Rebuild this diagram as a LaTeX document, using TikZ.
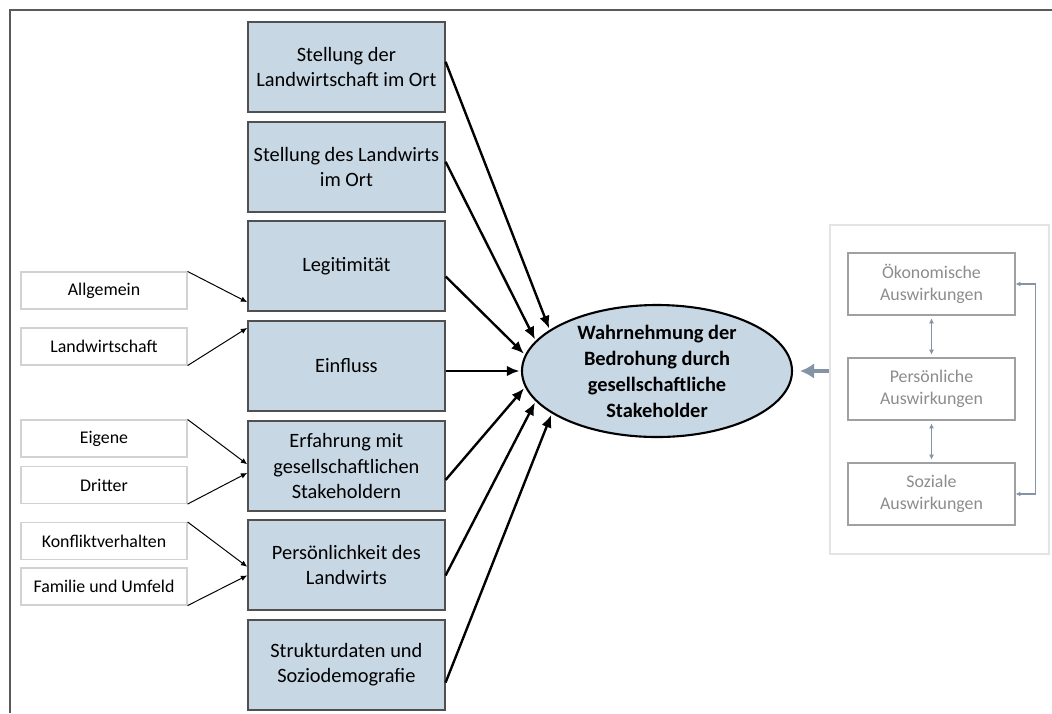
\documentclass[tikz,border=0pt]{standalone}
\usepackage{fontspec}
\setmainfont{Carlito}
\usetikzlibrary{arrows.meta,shapes.geometric}

\definecolor{boxblue}{RGB}{200,215,228}
\definecolor{boxline}{RGB}{80,80,80}
\definecolor{frameline}{RGB}{90,90,90}
\definecolor{lightline}{RGB}{210,210,210}
\definecolor{panelline}{RGB}{228,228,228}
\definecolor{panelgray}{RGB}{160,160,160}
\definecolor{paneltext}{RGB}{140,140,140}
\definecolor{arrowgray}{RGB}{132,148,164}

\begin{document}
\begin{tikzpicture}
      \tikzstyle{STY1} = [draw=boxline, line width=1pt, fill=boxblue, rectangle, minimum height=2.25cm, minimum width=4.925cm, inner sep=1pt, align=center, font=\fontsize{14.5}{17.8}\selectfont]
      \tikzstyle{STY2} = [-{Latex[length=9pt,width=7.5pt]}, line width=1.7pt, shorten >=1pt]
      \tikzstyle{STY3} = [draw=lightline, line width=0.8pt, rectangle, minimum height=0.925cm, minimum width=4.15cm, inner sep=1pt, font=\fontsize{12.7}{15}\selectfont]
      \tikzstyle{STY4} = [-{Latex[length=4.5pt,width=4pt]}, line width=0.7pt]
      \tikzstyle{STY5} = [draw=panelgray, line width=0.8pt, text=paneltext, rectangle, minimum height=1.55cm, minimum width=4.175cm, inner sep=1pt, align=center, font=\fontsize{12.7}{15.6}\selectfont]
      \tikzstyle{STY6} = [{Latex[length=3.5pt,width=3.5pt]}-{Latex[length=3.5pt,width=3.5pt]}, draw=arrowgray]

      \useasboundingbox (0,0) rectangle (26.3,-17.825);

      %%%%% FRAME
      \draw[frameline, line width=1.2pt] (0.25,-17.825) -- (0.25,-0.25) -- (26.3,-0.25);

      %%%%% VERTEX

      \node[STY1](f1) at (8.66, -1.675) {Stellung der\\Landwirtschaft im Ort};
      \node[STY1](f2) at (8.66, -4.175) {Stellung des Landwirts\\im Ort};
      \node[STY1](f3) at (8.66, -6.65) {Legitimität};
      \node[STY1](f4) at (8.66, -9.15) {Einfluss};
      \node[STY1](f5) at (8.66, -11.65) {Erfahrung mit\\gesellschaftlichen\\Stakeholdern};
      \node[STY1](f6) at (8.66, -14.125) {Persönlichkeit des\\Landwirts};
      \node[STY1](f7) at (8.66, -16.625) {Strukturdaten und\\Soziodemografie};

      \node[STY3](u1) at (2.6, -7.2625) {Allgemein};
      \node[STY3](u2) at (2.6, -8.6625) {Landwirtschaft};
      \node[STY3](u3) at (2.6, -10.9625) {Eigene};
      \node[STY3](u4) at (2.6, -12.125) {Dritter};
      \node[STY3](u5) at (2.6, -13.525) {Konfliktverhalten};
      \node[STY3](u6) at (2.6, -14.6625) {Familie und Umfeld};

      \node[draw, line width=1.5pt, fill=boxblue, ellipse, minimum width=6.75cm, minimum height=3.3cm, inner sep=0pt, align=center, font=\fontsize{14.5}{18.5}\selectfont\bfseries](w) at (16.425, -9.275) {Wahrnehmung der\\Bedrohung durch\\gesellschaftliche\\Stakeholder};

      \node[draw=panelline, line width=0.8pt, rectangle, minimum width=5.475cm, minimum height=8.225cm](pan) at (23.4875, -9.7375) {};
      \node[STY5](p1) at (23.2875, -7.1) {Ökonomische\\Auswirkungen};
      \node[STY5](p2) at (23.2875, -9.725) {Persönliche\\Auswirkungen};
      \node[STY5](p3) at (23.2875, -12.35) {Soziale\\Auswirkungen};

      \coordinate (tip) at (20.0, -9.275);

      %%%%% EDGES
      \draw[STY2]  (f1.3) -- (w.159);
      \draw[STY2]  (f2.3) -- (w.166);
      \draw[STY2]  (f3.354) -- (w.173);
      \draw[STY2]  (f4.east |- w) -- (w.180);
      \draw[STY2]  (f5.352) -- (w.187);
      \draw[STY2]  (f6.354) -- (w.194);
      \draw[STY2]  (f7.350) -- (w.202);

      \draw[STY4]  (u1.north east) -- (f3.200);
      \draw[STY4]  (u2.south east) -- (f4.159);
      \draw[STY4]  (u3.north east) -- (f5.179);
      \draw[STY4]  (u4.south east) -- (f5.184);
      \draw[STY4]  (u5.north east) -- (f6.181);
      \draw[STY4]  (u6.south east) -- (f6.186);

      \draw[-{Latex[length=10pt,width=11pt]}, arrowgray, line width=2.4pt]  (pan.west |- w) -- (tip);

      \draw[STY6, line width=0.5pt, shorten <=2pt, shorten >=2pt]  (p1.south) -- (p2.north);
      \draw[STY6, line width=1.2pt, shorten <=2pt, shorten >=2pt]  (p2.south) -- (p3.north);
      \draw[STY6, line width=0.8pt]  (p1.east) -- ++(0.5,0) |- (p3.east);
    \end{tikzpicture}
\end{document}
